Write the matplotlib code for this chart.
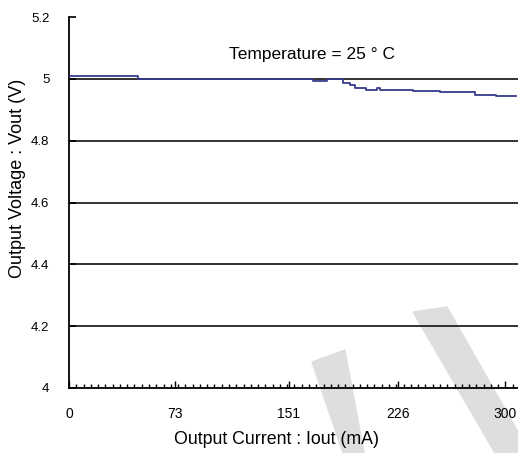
import matplotlib
matplotlib.use("Agg")
import matplotlib.pyplot as plt
from matplotlib.patches import Polygon
import numpy as np

# output voltage vs load current (step-like trace)
iout = [0, 47.5, 168, 177.6, 188.6, 193.4, 196.8, 204.4, 212, 214, 236.8, 255.3, 279.4, 293.2, 307]
vout = [5.010, 5.000, 4.994, 5.000, 4.988, 4.980, 4.970, 4.964, 4.970, 4.964, 4.961, 4.956, 4.948, 4.944, 4.944]

xtick_pos = [0, 73, 151, 226, 300]
xtick_labels = ["0", "73", "151", "226", "300"]
ytick_pos = [4, 4.2, 4.4, 4.6, 4.8, 5, 5.2]
ytick_labels = ["4", "4.2", "4.4", "4.6", "4.8", "5", "5.2"]

plt.rcParams["font.family"] = ["Liberation Sans", "DejaVu Sans"]

W, H = 518, 453
fig = plt.figure(figsize=(W / 100, H / 100), dpi=100)
ax = fig.add_axes([69 / W, 1 - 388 / H, 1 - 69 / W + 0.001, (388 - 17) / H])
ax.patch.set_alpha(0)
ax.set_zorder(2)

# light grey watermark behind the chart
def px(pts):
    return [(x / W, 1 - y / H) for x, y in pts]

wm = "#dedede"
fig.patches.append(Polygon(px([(413, 312), (447, 307), (530, 453), (495, 453)]),
                           closed=True, transform=fig.transFigure, color=wm, zorder=0))
fig.patches.append(Polygon(px([(312, 362), (345, 350), (364, 453), (343, 453)]),
                           closed=True, transform=fig.transFigure, color=wm, zorder=0))

# horizontal grid lines
for v in [4.2, 4.4, 4.6, 4.8, 5.0]:
    ax.axhline(v, color="#222222", lw=1.3, zorder=1)

ax.plot(iout, vout, drawstyle="steps-post", color="#363b8e", lw=1.3, zorder=3)

ax.set_xlim(0, 309)
ax.set_ylim(4, 5.2)

ax.spines["top"].set_visible(False)
ax.spines["right"].set_visible(False)
ax.spines["left"].set_linewidth(1.3)
ax.spines["bottom"].set_linewidth(1.3)

ax.set_xticks(xtick_pos)
ax.set_xticklabels(xtick_labels)
ax.set_xticks(np.arange(0, 309, 5), minor=True)
ax.set_yticks(ytick_pos)
ax.set_yticklabels(ytick_labels)
ax.tick_params(axis="x", which="major", direction="in", length=5, width=1, pad=14, labelsize=10)
ax.tick_params(axis="x", which="minor", direction="in", length=3, width=1)
ax.tick_params(axis="y", which="major", direction="in", length=5, width=1.2, pad=14, labelsize=9.5)

ax.text(167, 5.08, "Temperature = 25 ° C", ha="center", va="center", fontsize=12.5)

fig.text(276 / W, 1 - 440 / H, "Output Current : Iout (mA)", ha="center", va="center",
         fontsize=12.8, zorder=3)
fig.text(18 / W, 1 - 178 / H, "Output Voltage : Vout (V)", ha="center", va="center",
         rotation=90, fontsize=13, zorder=3)

fig.savefig("out.png", dpi=100)
